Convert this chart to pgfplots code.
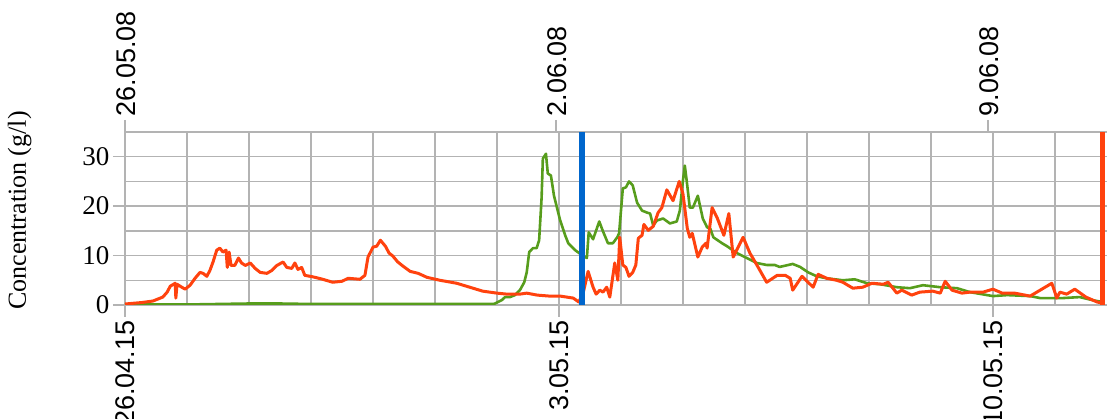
\documentclass[border=0pt]{standalone}
\usepackage{fontspec}
\setmainfont{Liberation Serif}
\setsansfont{Liberation Sans}
\usepackage{pgfplots}
\pgfplotsset{compat=1.18}
\definecolor{lo}{HTML}{FF420E}
\definecolor{lg}{HTML}{579D1C}
\definecolor{lb}{HTML}{0066CC}
\definecolor{gridgray}{HTML}{B3B3B3}

\pgfplotstableread{
x y
0 0.2
0.27 0.5
0.45 0.8
0.61 1.6
0.68 2.6
0.73 3.8
0.81 4.4
0.82 1.4
0.84 4.2
0.89 3.8
0.97 3.2
1.05 4.0
1.13 5.4
1.21 6.6
1.26 6.4
1.32 5.8
1.37 7.0
1.42 8.7
1.48 11.1
1.53 11.5
1.58 10.7
1.63 11.1
1.65 7.6
1.68 10.7
1.71 8.0
1.77 8.0
1.83 9.5
1.88 8.5
1.94 8.0
2.02 8.5
2.10 7.4
2.18 6.6
2.29 6.4
2.37 7.0
2.45 8.0
2.55 8.7
2.61 7.6
2.69 7.4
2.74 8.5
2.79 7.2
2.85 7.6
2.90 6.0
3.03 5.7
3.19 5.2
3.35 4.6
3.50 4.8
3.60 5.4
3.79 5.2
3.87 6.0
3.92 9.7
4.00 11.7
4.06 11.9
4.12 13.1
4.20 11.9
4.26 10.5
4.32 9.9
4.40 8.7
4.48 7.9
4.60 6.8
4.73 6.4
4.87 5.6
5.08 5.0
5.35 4.4
5.56 3.6
5.77 2.8
6.00 2.4
6.16 2.2
6.37 2.2
6.48 2.4
6.65 2.0
6.85 1.8
7.02 1.8
7.23 1.4
7.32 0.6
7.39 2.4
7.47 6.8
7.55 3.6
7.60 2.2
7.66 3.0
7.71 2.6
7.77 3.6
7.82 1.6
7.90 8.5
7.95 5.0
7.98 13.7
8.03 8.1
8.08 7.6
8.13 5.8
8.19 6.6
8.24 8.1
8.28 13.5
8.34 14.1
8.37 16.3
8.44 15.1
8.52 15.9
8.60 18.7
8.66 19.7
8.74 23.3
8.84 21.1
8.94 25.0
9.00 22.5
9.07 15.5
9.11 13.7
9.15 14.5
9.24 9.7
9.31 11.7
9.37 12.5
9.39 11.5
9.47 19.7
9.55 17.7
9.66 14.1
9.74 18.5
9.81 9.7
9.97 13.7
10.08 10.5
10.21 7.7
10.35 4.6
10.52 6.0
10.65 6.0
10.73 5.4
10.77 3.0
10.92 5.8
11.10 3.6
11.18 6.2
11.32 5.4
11.48 5.0
11.58 4.6
11.74 3.4
11.90 3.6
12.05 4.4
12.23 4.2
12.31 4.6
12.45 2.4
12.53 3.0
12.69 2.0
12.82 2.6
13.03 2.8
13.15 2.4
13.23 4.8
13.34 3.0
13.50 2.4
13.63 2.6
13.84 2.6
14.00 3.2
14.15 2.4
14.35 2.4
14.60 1.8
14.95 4.4
15.03 1.4
15.08 2.6
15.19 2.2
15.32 3.2
15.50 1.6
15.68 0.6
15.76 0.4
}\orangedata

\pgfplotstableread{
x y
0 0.1
1.0 0.1
2.0 0.3
2.5 0.3
3.0 0.2
4.0 0.2
5.0 0.2
5.95 0.2
6.08 1.0
6.13 1.6
6.21 1.6
6.29 2.0
6.37 3.0
6.44 4.6
6.48 6.6
6.52 10.7
6.58 11.5
6.64 11.5
6.68 13.1
6.72 21.7
6.74 29.6
6.79 30.6
6.82 26.6
6.87 26.2
6.92 22.1
7.02 17.1
7.10 14.1
7.15 12.5
7.26 11.1
7.37 10.1
7.45 9.5
7.48 14.7
7.55 13.3
7.65 16.9
7.71 14.9
7.79 12.5
7.87 12.5
7.94 13.7
7.97 14.5
8.03 23.6
8.08 23.8
8.13 25.0
8.19 24.2
8.26 20.7
8.34 19.1
8.42 18.7
8.47 18.5
8.52 16.1
8.58 17.1
8.68 17.5
8.79 16.5
8.90 16.9
8.95 19.1
9.00 25.2
9.03 28.2
9.06 25.2
9.11 19.7
9.16 19.7
9.24 22.1
9.32 17.5
9.39 15.7
9.44 15.5
9.49 13.7
9.63 12.5
9.71 11.9
9.87 10.5
10.03 9.5
10.19 8.5
10.35 8.1
10.48 8.1
10.56 7.7
10.77 8.3
10.89 7.7
11.02 6.6
11.16 5.8
11.32 5.4
11.58 5.0
11.77 5.2
11.97 4.4
12.18 4.2
12.45 3.6
12.66 3.4
12.87 4.0
13.15 3.6
13.42 3.4
13.63 2.6
14.00 1.8
14.23 2.0
14.60 1.8
14.76 1.4
15.13 1.4
15.40 1.6
15.60 1.0
15.76 0.6
}\greendata

\begin{document}
\begin{tikzpicture}
\begin{axis}[
  scale only axis, width=982pt, height=173pt,
  xmin=0, xmax=15.84, ymin=0, ymax=35,
  xtick={0,7,14}, xticklabels={26.04.15,3.05.15,10.05.15},
  minor xtick={1,...,15},
  ytick={0,10,20,30}, minor ytick={5,15,25,35},
  grid=both,
  major grid style={gridgray, line width=1.5pt},
  minor grid style={gridgray, line width=1.5pt},
  axis line style={draw=none},
  tick align=outside, major tick length=12pt, minor tick length=0pt,
  tick style={gridgray, line width=1.5pt},
  xtick pos=left, ytick pos=left,
  xticklabel style={rotate=90, anchor=east, font=\sffamily\fontsize{27}{27}\selectfont},
  yticklabel style={font=\fontsize{27}{27}\selectfont},
  /pgf/number format/assume math mode=true,
  ylabel={Concentration (g/l)},
  ylabel style={font=\fontsize{26}{26}\selectfont, at={(axis description cs:-0.0915,0.546)}, anchor=south},
]
\coordinate (O) at (rel axis cs:0,0);
\addplot[lg, line width=2.6pt, line join=round] table {\greendata};
\addplot[lo, line width=3pt, line join=round] table {\orangedata};
\addplot[lb, line width=5.5pt] coordinates {(7.37,0) (7.37,35)};
\addplot[lo, line width=5pt] coordinates {(15.77,0) (15.77,35)};
\end{axis}
\begin{axis}[
  scale only axis, width=982pt, height=173pt,
  xmin=0, xmax=15.84, ymin=0, ymax=35,
  axis x line*=top, axis y line=none,
  axis line style={draw=none},
  xtick={0,6.95,13.92}, xticklabels={26.05.08,2.06.08,9.06.08},
  tick align=outside, major tick length=12pt,
  tick style={gridgray, line width=1.5pt},
  xticklabel style={rotate=90, anchor=west, yshift=-1pt, font=\sffamily\fontsize{27}{27}\selectfont},
]
\end{axis}
\pgfresetboundingbox
\path[use as bounding box] ([shift={(-125pt,-114pt)}]O) rectangle ([shift={(984pt,305pt)}]O);
\end{tikzpicture}
\end{document}
